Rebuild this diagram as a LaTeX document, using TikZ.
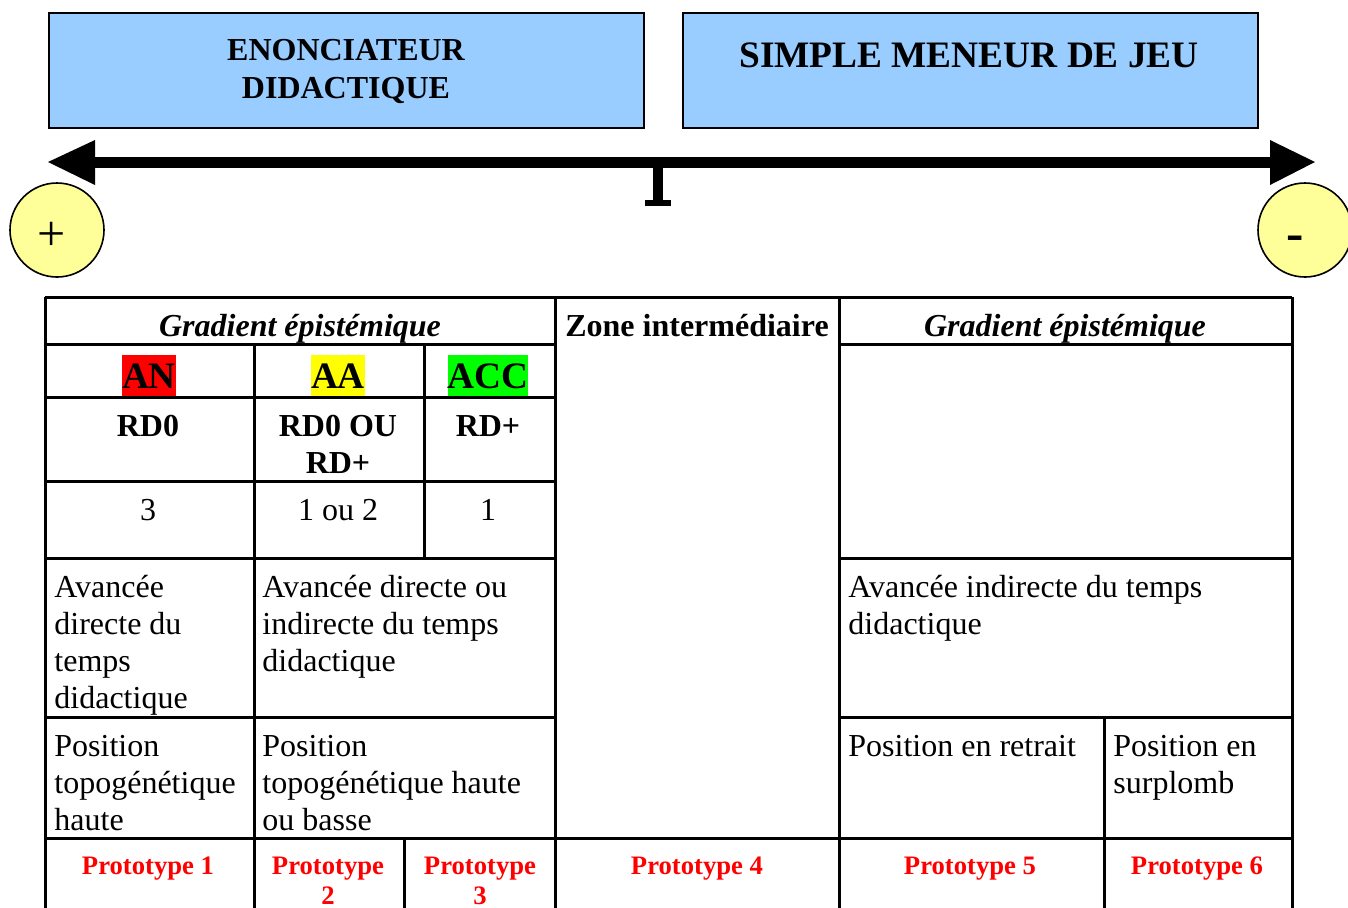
\documentclass[tikz,border=0pt]{standalone}
\usepackage{fontspec}
\setmainfont{Liberation Serif}
\usepackage{tikz}
\usepackage{color}
\definecolor{light-blue}{HTML}{99CCFF}
\definecolor{pale-yellow}{HTML}{FFFF99}
\definecolor{hl-red}{HTML}{FF0000}
\definecolor{hl-yellow}{HTML}{FFFF00}
\definecolor{hl-green}{HTML}{00FF00}
\usetikzlibrary{positioning}
\newcommand{\cellbox}[2]{\begin{tabular}[t]{@{}#1@{}}#2\end{tabular}}

\begin{document}
\begin{tikzpicture}[x=0.5pt,y=-0.5pt]
    \tikzstyle{every node}=[inner sep=0pt]
    \tikzstyle{txt}=[font=\fontsize{16}{18.5}\selectfont]
    \tikzstyle{hd}=[font=\fontsize{16}{18.5}\selectfont\bfseries]
    \tikzstyle{hdit}=[font=\fontsize{16}{18.5}\selectfont\bfseries\itshape]
    \tikzstyle{big}=[font=\fontsize{18.67}{19}\selectfont\bfseries]
    \tikzstyle{rolefont}=[font=\fontsize{16}{19}\selectfont\bfseries]
    \tikzstyle{hilite}=[big, text height=16.6pt, text depth=4pt]
    \tikzstyle{proto}=[font=\fontsize{13.33}{15}\selectfont\bfseries, text=hl-red]
    \tikzstyle{role}=[draw, line width=1pt, fill=light-blue, anchor=north west, minimum height=57.5pt]
    \tikzstyle{pole}=[draw, circle, line width=0.8pt, fill=pale-yellow, minimum size=47pt]
    \tikzstyle{tabline}=[line width=1.5pt]

    \useasboundingbox (0,0) rectangle (1348,907);
    \clip (0,0) rectangle (1348,907);

    % the two roles
    \node[role, minimum width=297.5pt] (enon) at (48,12) {};
    \node[role, minimum width=287.5pt] (meneur) at (682,12) {};
    \node[rolefont, anchor=base] (enontxt) at (346,60) {\cellbox{c}{ENONCIATEUR\\DIDACTIQUE}};
    \node[big, anchor=base] (meneurtxt) at (969,67) {SIMPLE MENEUR DE JEU};

    % axis
    \coordinate (axisL) at (48,162);
    \coordinate (axisR) at (1315,162);
    \coordinate (mid) at (658,162);
    \draw[line width=5.5pt] ([xshift=20pt]axisL) -- ([xshift=-20pt]axisR);
    \fill (axisL) -- ++(47,-22) -- ++(0,45) -- cycle;
    \fill (axisR) -- ++(-45,-22) -- ++(0,45) -- cycle;
    \fill ([xshift=-2.5pt]mid) rectangle ([xshift=2.5pt,yshift=-21pt]mid);
    \fill (645,200) rectangle (671,206);

    \node[pole] (plus) at (57,230) {};
    \node[font=\fontsize{25}{25}\selectfont] (plustxt) at (52,236) {+};
    \node[pole] (minus) at (1305,230) {};
    \node[font=\fontsize{26}{26}\selectfont\bfseries] (minustxt) at (1295,243) {-};

    % table rules
    \draw[tabline] (45,297) -- (1292,297);
    \draw[tabline] (45,344) -- (555,344) (839,344) -- (1292,344);
    \draw[tabline] (45,397) -- (555,397);
    \draw[tabline] (45,481) -- (555,481);
    \draw[tabline] (45,558) -- (555,558) (839,558) -- (1292,558);
    \draw[tabline] (45,717) -- (555,717) (839,717) -- (1292,717);
    \draw[tabline] (45,838) -- (1292,838);
    \draw[tabline] (45,297) -- (45,930);
    \draw[tabline] (254,344) -- (254,930);
    \draw[tabline] (424,344) -- (424,558);
    \draw[tabline] (404,838) -- (404,930);
    \draw[tabline] (555,297) -- (555,930);
    \draw[tabline] (839,297) -- (839,930);
    \draw[tabline] (1104,717) -- (1104,930);
    \draw[tabline] (1292,297) -- (1292,930);

    % headings
    \node[hdit, anchor=base] (gradL) at (300,336) {Gradient épistémique};
    \node[hd, anchor=base] (zone) at (697,336) {Zone intermédiaire};
    \node[hdit, anchor=base] (gradR) at (1065,336) {Gradient épistémique};

    \node[hilite, fill=hl-red, anchor=base] (an) at (149,388) {AN};
    \node[hilite, fill=hl-yellow, anchor=base] (aa) at (338,388) {AA};
    \node[hilite, fill=hl-green, anchor=base] (acc) at (488,388) {ACC};

    \node[hd, anchor=base] (rdzero) at (148,436) {RD0};
    \node[hd, anchor=base] (rdou) at (338,436) {\cellbox{c}{RD0 OU\\RD+}};
    \node[hd, anchor=base] (rdplus) at (488,436) {RD+};

    \node[txt, anchor=base] (nthree) at (148,520) {3};
    \node[txt, anchor=base] (nonetwo) at (338,520) {1 ou 2};
    \node[txt, anchor=base] (none) at (488,520) {1};

    % cells
    \node[txt, anchor=base west] (avL) at (54,597) {\cellbox{l}{Avancée\\directe du\\temps\\didactique}};
    \node[txt, anchor=base west] (avM) at (262,597) {\cellbox{l}{Avancée directe ou\\indirecte du temps\\didactique}};
    \node[txt, anchor=base west] (avR) at (848,597) {\cellbox{l}{Avancée indirecte du temps\\didactique}};

    \node[txt, anchor=base west] (posL) at (54,756) {\cellbox{l}{Position\\topogénétique\\haute}};
    \node[txt, anchor=base west] (posM) at (262,756) {\cellbox{l}{Position\\topogénétique haute\\ou basse}};
    \node[txt, anchor=base west] (posR) at (848,756) {Position en retrait};
    \node[txt, anchor=base west] (posS) at (1113,756) {\cellbox{l}{Position en\\surplomb}};

    % prototypes
    \node[proto, anchor=base] (pone) at (148,874) {Prototype 1};
    \node[proto, anchor=base] (ptwo) at (328,874) {\cellbox{c}{Prototype\\2}};
    \node[proto, anchor=base] (pthree) at (480,874) {\cellbox{c}{Prototype\\3}};
    \node[proto, anchor=base] (pfour) at (697,874) {Prototype 4};
    \node[proto, anchor=base] (pfive) at (970,874) {Prototype 5};
    \node[proto, anchor=base] (psix) at (1197,874) {Prototype 6};
\end{tikzpicture}
\end{document}
